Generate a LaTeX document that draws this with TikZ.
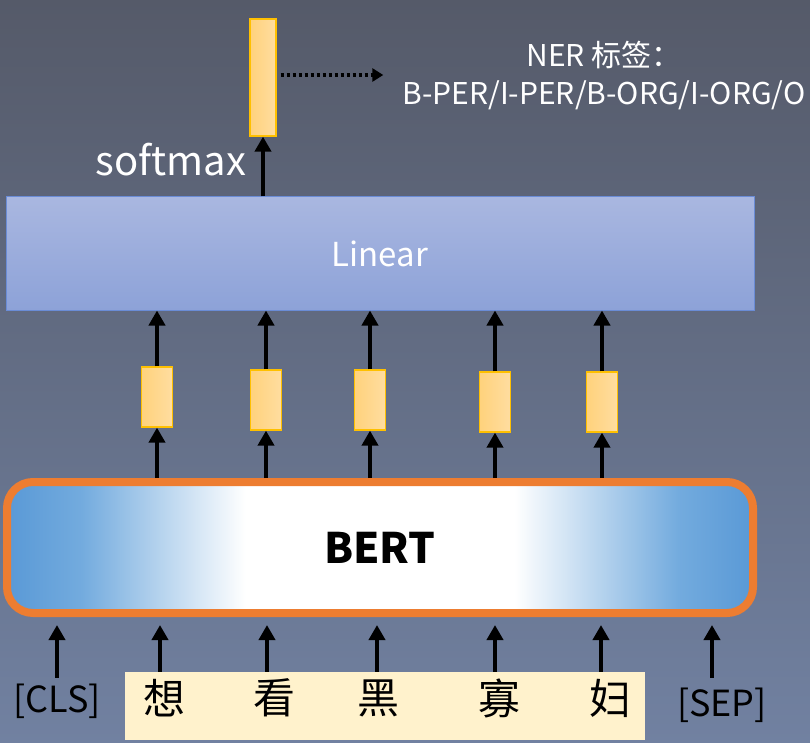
\documentclass[tikz,border=0pt]{standalone}
\usepackage{fontspec}
\setmainfont{Noto Sans CJK SC}
\usepackage{xcolor}
\usetikzlibrary{arrows.meta}
\usetikzlibrary{positioning}

\definecolor{bgtop}{HTML}{555A69}
\definecolor{bgbot}{HTML}{7181A1}
\definecolor{lintop}{HTML}{A9B7E0}
\definecolor{linbot}{HTML}{8DA2D8}
\definecolor{linedge}{HTML}{6A8CD6}
\definecolor{vecleft}{HTML}{FFD27C}
\definecolor{vecright}{HTML}{FFDDA0}
\definecolor{vecedge}{HTML}{FFC000}
\definecolor{bertedge}{HTML}{ED7D31}
\definecolor{cream}{HTML}{FFF2CC}

% blue at the ends, white in the middle
\pgfdeclarehorizontalshading{bertfill}{100bp}{rgb(0bp)=(0.32,0.58,0.82); rgb(25bp)=(0.35,0.60,0.84); rgb(30bp)=(0.45,0.67,0.87); rgb(41bp)=(1,1,1); rgb(59bp)=(1,1,1); rgb(70bp)=(0.45,0.67,0.87); rgb(75bp)=(0.35,0.60,0.84); rgb(100bp)=(0.32,0.58,0.82)}

\tikzset{
  arr/.style={-{Triangle[width=16pt,length=15pt]}, line width=4pt},
  dotarr/.style={-{Triangle[width=13pt,length=11pt]}, line width=4pt, dash pattern=on 3pt off 3pt},
  vecbox/.style={draw=vecedge, line width=1.2pt, left color=vecleft, right color=vecright,
    minimum width=31pt, minimum height=60pt, inner sep=0pt},
  linbox/.style={draw=linedge, line width=1pt, top color=lintop, bottom color=linbot,
    text=white, font=\fontsize{33}{36}\selectfont},
  bertbox/.style={draw=bertedge, line width=8pt, rounded corners=26pt, shading=bertfill,
    font=\fontsize{42}{46}\selectfont\bfseries},
  tok/.style={inner sep=0pt, font=\fontsize{42}{46}\selectfont},
  lab/.style={text=white, inner sep=0pt}
}

\begin{document}
\begin{tikzpicture}[x=1pt,y=-1pt]
\shade[top color=bgtop,bottom color=bgbot] (0,0) rectangle (810,743);
\useasboundingbox (0,0) rectangle (810,743);

% output vector and tags
\node[vecbox, minimum width=26pt, minimum height=117pt] (out) at (263,77.5) {};
\node[lab, align=center, font=\fontsize{30}{38}\selectfont] (tags) at (604,76) {NER 标签：\\B-PER/I-PER/B-ORG/I-ORG/O};
\draw[dotarr, shorten <=4pt, shorten >=19pt] ([yshift=2.5pt]out.east) -- ([yshift=2.5pt]out.east -| tags.west);

% linear layer
\node[linbox, minimum width=748pt, minimum height=113pt] (linear) at (380,253.5) {Linear};
\node[lab, font=\fontsize{40}{44}\selectfont] (sm) at (171,160) {softmax};
\draw[arr] (linear.north -| out) -- (out.south);

% hidden vectors
\node[vecbox] (h1) at (157,397) {};
\node[vecbox] (h2) at (266,400) {};
\node[vecbox] (h3) at (370,400) {};
\node[vecbox] (h4) at (495,402) {};
\node[vecbox] (h5) at (602,402) {};

% bert
\node[bertbox, minimum width=746pt, minimum height=131pt] (bert) at (380,547.5) {BERT};

\draw[arr] (bert.north -| h1) -- (h1.south);
\draw[arr] (bert.north -| h2) -- (h2.south);
\draw[arr] (bert.north -| h3) -- (h3.south);
\draw[arr] (bert.north -| h4) -- (h4.south);
\draw[arr] (bert.north -| h5) -- (h5.south);
\draw[arr] (h1.north) -- (linear.south -| h1);
\draw[arr] (h2.north) -- (linear.south -| h2);
\draw[arr] (h3.north) -- (linear.south -| h3);
\draw[arr] (h4.north) -- (linear.south -| h4);
\draw[arr] (h5.north) -- (linear.south -| h5);

% input tokens
\node[fill=cream, minimum width=520pt, minimum height=68pt, inner sep=0pt] (sent) at (385,706) {};
\node[tok, font=\fontsize{36}{40}\selectfont] (cls) at (57,701) {[CLS]};
\node[tok] (t1) at (164,698) {想};
\node[tok] (t2) at (274,698) {看};
\node[tok] (t3) at (378,698) {黑};
\node[tok] (t4) at (499,698) {寡};
\node[tok] (t5) at (610,698) {妇};
\node[tok, font=\fontsize{36}{40}\selectfont] (sep) at (722,705) {[SEP]};

\draw[arr, shorten >=8pt] ([yshift=-6pt]sent.north -| cls) -- (bert.south -| cls);
\draw[arr, shorten >=8pt] ([xshift=-4pt]sent.north -| t1) -- ([xshift=-4pt]bert.south -| t1);
\draw[arr, shorten >=8pt] ([xshift=-7pt]sent.north -| t2) -- ([xshift=-7pt]bert.south -| t2);
\draw[arr, shorten >=8pt] ([xshift=-1pt]sent.north -| t3) -- ([xshift=-1pt]bert.south -| t3);
\draw[arr, shorten >=8pt] ([xshift=-4pt]sent.north -| t4) -- ([xshift=-4pt]bert.south -| t4);
\draw[arr, shorten >=8pt] ([xshift=-9pt]sent.north -| t5) -- ([xshift=-9pt]bert.south -| t5);
\draw[arr, shorten >=8pt] ([xshift=-10pt,yshift=-6pt]sent.north -| sep) -- ([xshift=-10pt]bert.south -| sep);

\end{tikzpicture}
\end{document}
